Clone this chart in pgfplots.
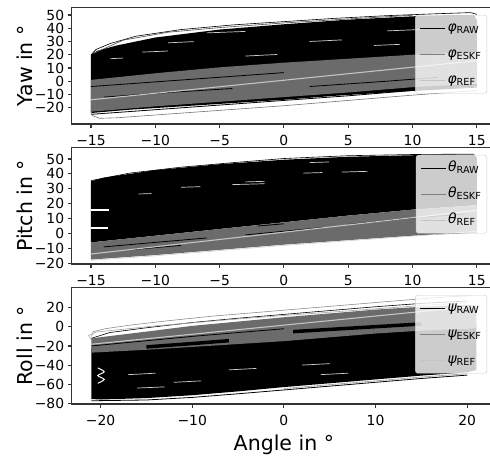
\documentclass[border=0pt]{standalone}
\usepackage{pgfplots}
\pgfplotsset{compat=1.18}
\usepackage{fontspec}
\setmainfont{DejaVu Sans}
\definecolor{eskf}{HTML}{6B6B6B}
\definecolor{eskfline}{HTML}{808080}
\definecolor{refc}{HTML}{C4C4C4}
\definecolor{spine}{HTML}{333333}

% legend label: greek letter in oblique, subscript upright and smaller
\newcommand{\lbl}[2]{{\itshape #1}\raisebox{-2.5pt}{\fontsize{9.7}{10}\selectfont #2}}

\pgfplotsset{
  panel/.style={
    scale only axis, width=424.4pt, height=116.5pt,
    axis line style={spine, line width=1.1pt},
    tick style={spine, line width=1.1pt},
    tick align=outside, tick pos=left,
    major tick length=4pt,
    tick label style={font=\fontsize{13.9}{16}\selectfont},
    xticklabel style={yshift=-4pt},
    every axis y label/.style={at={(rel axis cs:0,0.5)}, xshift=-47pt,
      rotate=90, anchor=center, font=\fontsize{20.5}{24}\selectfont},
    legend style={at={(1,1)}, anchor=north east, xshift=-9pt, yshift=-7.5pt,
      draw=black!20, rounded corners=2.5pt, fill=white, fill opacity=0.8,
      draw opacity=1, text opacity=1, inner sep=4pt, row sep=8pt,
      nodes={inner sep=2pt, text height=10pt, text depth=4pt},
      font=\fontsize{13.9}{16}\selectfont},
    legend cell align=left,
    legend image code/.code={\draw[#1, line width=1.1pt] (0pt,0pt) -- (25pt,0pt);},
  },
  raw/.style={fill=black, draw=none, forget plot},
  eskfarea/.style={fill=eskf, draw=none, forget plot},
  streak/.style={black, line width=0.8pt, forget plot},
  gap/.style={white, line width=0.7pt, opacity=0.8, forget plot},
  refline/.style={refc, line width=1.1pt, forget plot},
}

\begin{document}
\begin{tikzpicture}
\path[use as bounding box] (0,0) rectangle (490pt,-456pt);

% ---------------- Yaw ----------------
\begin{axis}[panel, at={(71.7pt,-124pt)}, anchor=south west,
  xmin=-16.5, xmax=16.5, ymin=-32.3, ymax=55.66,
  xtick={-15,-10,-5,0,5,10,15}, xticklabels={−15,−10,−5,0,5,10,15},
  ytick={-20,-10,0,10,20,30,40,50}, yticklabels={−20,−10,0,10,20,30,40,50},
  ylabel={Yaw in °}]
\addplot[raw] coordinates {(-15,-24) (-15,20) (-14.5,23) (-13,27) (-10,33) (-5,39) (0,43) (5,46.5) (10,49) (13,50) (14.8,50) (15,46) (15,-4) (12,-6) (8,-8.5) (4,-11) (0,-14) (-4,-16.5) (-8,-19) (-12,-21.5) (-15,-24)};
\addplot[black, line width=0.6pt, forget plot] coordinates {(-15,20) (-14.6,24) (-13.5,28.5) (-11.5,34) (-8,39) (-4,42.5) (0,45) (4,47.5) (8,49.5) (12,51) (14.5,51.8) (15,50.5)};
\addplot[black!70, line width=0.6pt, forget plot] coordinates {(-14.8,21) (-12.5,31) (-9,37) (-5,40.5) (0,44) (5,47) (10,49.8)};
\addplot[gap] coordinates {(-6,36.5) (-3,37.6)};
\addplot[gap] coordinates {(-3,19) (-0.5,20.2)};
\addplot[gap] coordinates {(2,30) (4.5,31.2)};
\addplot[gap] coordinates {(7,27) (9,27.8)};
\addplot[gap] coordinates {(-11,22) (-9,22.8)};
\addplot[gap] coordinates {(8,38) (10.5,39)};
\addplot[gap] coordinates {(-9,29) (-7,29.9)};
\addplot[gap] coordinates {(-13.5,17) (-12.5,17.5)};
\addplot[eskfarea] coordinates {(-15,1) (-10,6) (-5,10.5) (0,14) (5,17) (10,20) (15,22) (15,-2) (10,-4.5) (5,-8.5) (0,-12) (-5,-15.5) (-10,-19) (-15,-23)};
\addplot[streak] coordinates {(-15,-4) (-10,-0.5) (-5,3) (0,6.5)};
\addplot[streak] coordinates {(-14,-12) (-9,-8.5) (-4,-5.5)};
\addplot[streak] coordinates {(2,-4) (8,0) (12,3)};
\addplot[streak] coordinates {(-15,-25) (-10,-21.5) (-5,-18) (0,-14.5) (5,-11) (10,-7) (15,-4.5)};
\addplot[black!55, line width=0.6pt, forget plot] coordinates {(-15,-22) (-14.9,-26) (-14.3,-28) (-13,-27.6) (-10,-25.5) (-5,-22) (0,-18.5) (5,-14.5) (10,-10.5) (15,-7)};
\addplot[refline] coordinates {(-15,-14) (15,15.5)};
\addlegendimage{black}
\addlegendentry{\lbl{φ}{RAW}}
\addlegendimage{eskfline}
\addlegendentry{\lbl{φ}{ESKF}}
\addlegendimage{refc}
\addlegendentry{\lbl{φ}{REF}}
\end{axis}

% ---------------- Pitch ----------------
\begin{axis}[panel, at={(71.7pt,-264pt)}, anchor=south west,
  xmin=-16.5, xmax=16.5, ymin=-20.5, ymax=57.7,
  xtick={-15,-10,-5,0,5,10,15}, xticklabels={−15,−10,−5,0,5,10,15},
  ytick={-20,-10,0,10,20,30,40,50}, yticklabels={−20,−10,0,10,20,30,40,50},
  ylabel={Pitch in °}]
\addplot[raw] coordinates {(-15,-6) (-15,35) (-14,37.5) (-12,40) (-10,42.5) (-5,46.5) (0,49.5) (5,51.5) (10,52.5) (14.8,53) (15,51) (15,19) (10,16) (5,12) (0,7.5) (-5,3) (-10,-1.5) (-15,-6)};
\addplot[black, line width=0.6pt, forget plot] coordinates {(-15,35.5) (-12,40.5) (-8,44.5) (-4,47.5) (0,50.3) (5,52.2) (10,53) (14.8,53.3)};
\addplot[white, line width=2.5pt, forget plot] coordinates {(-15,15.8) (-13.6,15.8)};
\addplot[white, line width=2pt, forget plot] coordinates {(-15,3.5) (-13.7,3.5)};
\addplot[gap] coordinates {(-11.3,26.5) (-10.3,26.8)};
\addplot[gap] coordinates {(-8,31) (-6.5,31.4)};
\addplot[gap] coordinates {(-4,32.8) (-1.5,33.4)};
\addplot[gap] coordinates {(-3,34.6) (-1.5,35)};
\addplot[gap] coordinates {(1.5,40.5) (3,40.9)};
\addplot[gap] coordinates {(4.5,41.2) (6.5,41.7)};
\addplot[gap] coordinates {(2,47.6) (3.5,48)};
\addplot[eskfarea] coordinates {(-15,-6) (-10,-1.5) (-5,3) (0,7.5) (5,12) (10,16) (15,19) (15,0.5) (10,-1.5) (5,-4.5) (0,-7.5) (-5,-11) (-10,-14.5) (-15,-17.5)};
\addplot[streak] coordinates {(-14,-9) (-10,-6) (-6,-3)};
\addplot[streak] coordinates {(-12,-11) (-8,-8)};
\addplot[streak] coordinates {(-3,-1) (0,1.5) (3,4)};
\addplot[streak] coordinates {(-2,5) (0,6.5)};
\addplot[streak] coordinates {(5,6) (10,10.5) (14,13)};
\addplot[refc!80, line width=0.6pt, forget plot] coordinates {(-15,-18) (-10,-15) (0,-8) (10,-1.8) (15,1.5)};
\addplot[refline] coordinates {(-15,-13.8) (15,15.5)};
\addlegendimage{black}
\addlegendentry{\lbl{θ}{RAW}}
\addlegendimage{eskfline}
\addlegendentry{\lbl{θ}{ESKF}}
\addlegendimage{refc}
\addlegendentry{\lbl{θ}{REF}}
\end{axis}

% ---------------- Roll ----------------
\begin{axis}[panel, at={(71.7pt,-404pt)}, anchor=south west,
  xmin=-23.15, xmax=23.15, ymin=-80.7, ymax=41.1,
  xtick={-20,-10,0,10,20}, xticklabels={−20,−10,0,10,20},
  ytick={-80,-60,-40,-20,0,20}, yticklabels={−80,−60,−40,−20,0,20},
  ylabel={Roll in °},
  xlabel={Angle in °},
  every axis x label/.style={at={(rel axis cs:0.5,0)}, anchor=base, yshift=-46.5pt,
    font=\fontsize{20.5}{24}\selectfont}]
\addplot[black!45, line width=0.6pt, forget plot] coordinates {(-21,-10) (-20.8,-5) (-19.5,-2) (-17,1.5) (-13,6) (-8,11) (-3,15) (2,19) (7,23) (12,27) (16,30) (19,32) (20.5,32.5)};
\addplot[black, line width=0.6pt, forget plot] coordinates {(-21,-12) (-19,-6) (-15,-1) (-10,4.5) (-5,9) (0,13) (5,17) (10,21) (15,24.5) (20,27)};
\addplot[black!35, line width=0.6pt, forget plot] coordinates {(-21,-14) (-21.3,-9) (-20.5,-5.5) (-18,-3) (-14,1) (-9,5) (-4,9) (1,12.5) (6,16) (11,19.5) (16,23) (20,25)};
\addplot[raw] coordinates {(-21,-22) (-15,-18.5) (-10,-15) (-5,-11.5) (0,-8) (5,-4.5) (10,-1) (15,2) (20,4) (21,3) (21,-45) (20,-47.5) (15,-51) (10,-55) (5,-59) (0,-63) (-5,-67.5) (-10,-71.5) (-15,-74.5) (-20,-76) (-21,-75.5)};
\addplot[black, line width=0.8pt, forget plot] coordinates {(-21,-77.3) (-15,-76.5) (-10,-73.8) (-5,-70) (0,-66) (5,-62) (10,-58) (15,-54) (20,-50.5)};
\addplot[black!40, line width=0.6pt, forget plot] coordinates {(0,-64.5) (5,-60.5) (10,-56.5) (15,-52.5) (20,-49)};
\addplot[white, line width=1pt, smooth, forget plot] coordinates {(-20.3,-43) (-19.6,-47) (-20.3,-51) (-19.6,-55) (-20.3,-59)};
\addplot[gap] coordinates {(-17,-50) (-14,-48.5)};
\addplot[gap] coordinates {(-12,-58) (-9,-56.5)};
\addplot[gap] coordinates {(-6,-45) (-3,-43.5)};
\addplot[gap] coordinates {(2,-40) (5,-38.5)};
\addplot[gap] coordinates {(-16,-64) (-13,-62.8)};
\addplot[gap] coordinates {(4,-50) (7,-48.5)};
\addplot[eskfarea] coordinates {(-21,-12) (-15,-5) (-10,1) (-5,5.5) (0,10) (5,14) (10,18) (15,21) (20,23) (21,22) (21,-1) (20,-2) (15,-4) (10,-7) (5,-11) (0,-15) (-5,-18) (-10,-21) (-15,-24) (-21,-27)};
\addplot[black, line width=3.5pt, forget plot] coordinates {(-15,-21) (-10,-17.5) (-6,-14.5)};
\addplot[black, line width=3.5pt, forget plot] coordinates {(1,-5) (8,-1) (15,3)};
\addplot[streak] coordinates {(-21,-20) (-10,-10) (0,-2)};
\addplot[refline] coordinates {(-21,-18.2) (21,21.7)};
\addlegendimage{black}
\addlegendentry{\lbl{ψ}{RAW}}
\addlegendimage{eskfline}
\addlegendentry{\lbl{ψ}{ESKF}}
\addlegendimage{refc}
\addlegendentry{\lbl{ψ}{REF}}
\end{axis}
\end{tikzpicture}
\end{document}
